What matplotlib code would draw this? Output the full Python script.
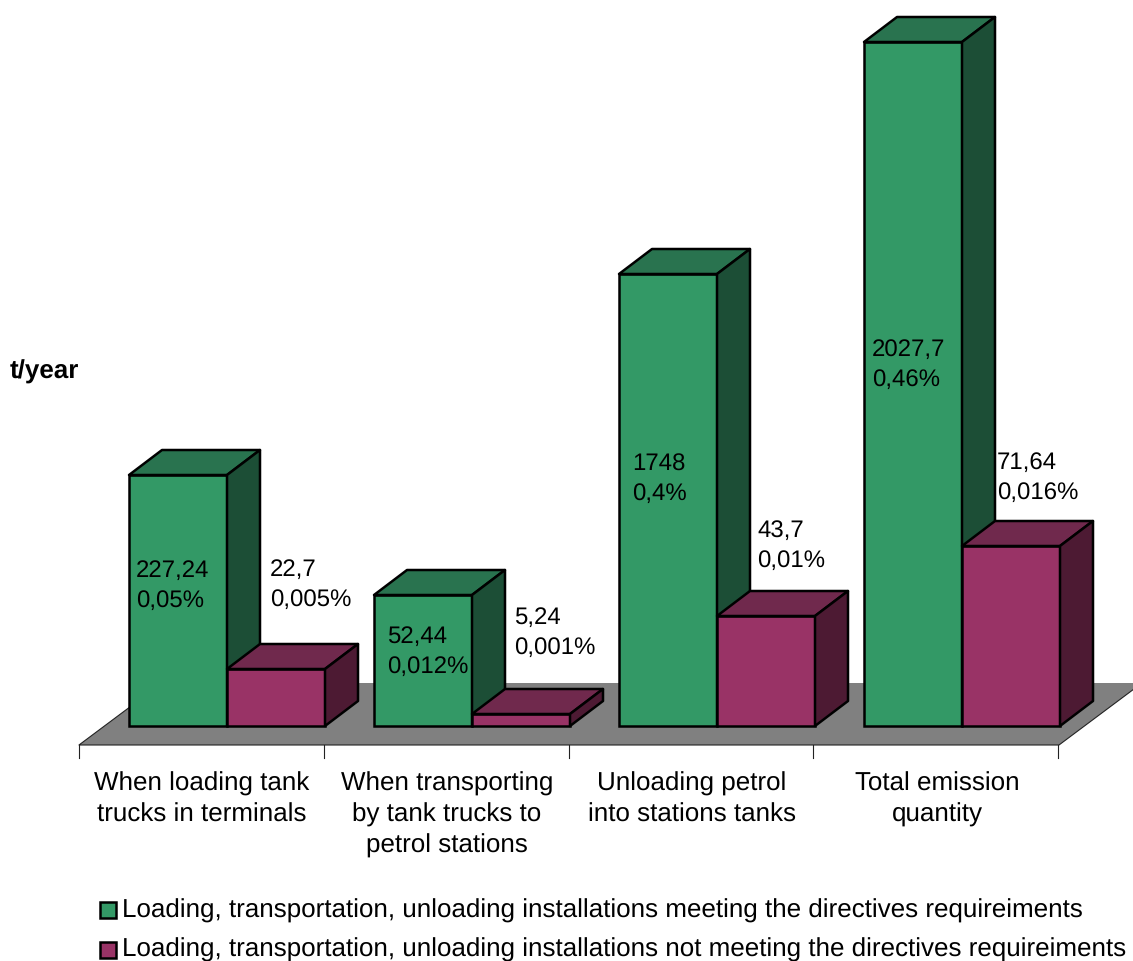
import matplotlib.pyplot as plt
from matplotlib.patches import Polygon, Rectangle

plt.rcParams['font.family'] = ['Liberation Sans', 'DejaVu Sans']
plt.rcParams['text.hinting'] = 'no_hinting'
plt.rcParams['text.hinting_factor'] = 1

# Data (bar heights, the drawn bars are not to the printed values)
categories = ["When loading tank\ntrucks in terminals",
              "When transporting\nby tank trucks to\npetrol stations",
              "Unloading petrol\ninto stations tanks",
              "Total emission\nquantity"]
green_heights = [251, 131, 452, 684]
purple_heights = [57, 12, 110, 180]
green_labels = ["227,24\n0,05%", "52,44\n0,012%", "1748\n0,4%", "2027,7\n0,46%"]
purple_labels = ["22,7\n0,005%", "5,24\n0,001%", "43,7\n0,01%", "71,64\n0,016%"]
legend_labels = ["Loading, transportation, unloading installations meeting the directives requireiments",
                 "Loading, transportation, unloading installations not meeting the directives requireiments"]

# Layout, in pixels
W, H = 1133, 961
base_y = 726
step = 245
bar_w = 98
first_x = 129
dx, dy = 33, 25
green_label_pos = [(136, 586), (387, 652), (632, 479), (872, 365)]
purple_label_pos = [(270, 585), (514, 633), (757, 546), (997, 478)]

# Colours
green = ("#339966", "#29734F", "#1C4E36")
purple = ("#993366", "#70294D", "#4D1A33")
floor_col = "#808080"
fs = 18.85
fs_val = 17.4
edge_w = 1.8


def py(p):
    return base_y - p


def draw_bar(ax, x, h, cols):
    ax.bar(x, h, width=bar_w, align="edge", color=cols[0], edgecolor="black", linewidth=edge_w, zorder=3)
    top = [(x, h), (x + dx, h + dy), (x + bar_w + dx, h + dy), (x + bar_w, h)]
    side = [(x + bar_w, 0), (x + bar_w + dx, dy), (x + bar_w + dx, h + dy), (x + bar_w, h)]
    ax.add_patch(Polygon(top, closed=True, facecolor=cols[1], edgecolor="black", linewidth=edge_w, joinstyle="round", zorder=3))
    ax.add_patch(Polygon(side, closed=True, facecolor=cols[2], edgecolor="black", linewidth=edge_w, joinstyle="round", zorder=3))


fig = plt.figure(figsize=(W / 100, H / 100), dpi=100)
ax = fig.add_axes([0, 0, 1, 1])
ax.set_xlim(0, W)
ax.set_ylim(base_y - H, base_y)
ax.axis("off")

# Floor of the 3D chart
floor = [(79, py(745)), (1059, py(745)), (1142, py(683)), (162, py(683))]
ax.add_patch(Polygon(floor, closed=True, facecolor=floor_col, edgecolor="none", zorder=1))
ax.plot([162, 79, 1059, 1142], [py(683), py(745), py(745), py(683)], color="#222222", lw=0.8, zorder=2)
for i in range(len(categories) + 1):
    tx = 79 + (step - 0.25) * i
    ax.plot([tx, tx], [py(745), py(758)], color="#222222", lw=0.8, zorder=2)

# Bars, left to right so that the purple ones sit over the green sides
for i in range(len(categories)):
    x = first_x + step * i
    draw_bar(ax, x, green_heights[i], green)
    draw_bar(ax, x + bar_w, purple_heights[i], purple)

# Value labels
for (lx, ly), s in zip(green_label_pos, green_labels):
    ax.text(lx, py(ly), s, fontsize=fs_val, va="center", ha="left", linespacing=1.43, zorder=5)
for (lx, ly), s in zip(purple_label_pos, purple_labels):
    ax.text(lx, py(ly), s, fontsize=fs_val, va="center", ha="left", linespacing=1.43, zorder=5)

# Category labels
for i, c in enumerate(categories):
    ax.text(202 + step * i, py(772), c, fontsize=fs, ha="center", va="top", linespacing=1.36)

ax.text(79, py(372), "t/year", fontsize=18.5, fontweight="bold", ha="right", va="center")

# Legend
for (sy, ty, col, s) in zip([902, 942], [918, 957], [green[0], purple[0]], legend_labels):
    ax.add_patch(Rectangle((99.5, py(sy + 16)), 16, 16, facecolor=col, edgecolor="black", linewidth=edge_w))
    ax.text(122, py(ty), s, fontsize=fs, ha="left", va="baseline", clip_on=False)

fig.savefig("out.png", dpi=100)
